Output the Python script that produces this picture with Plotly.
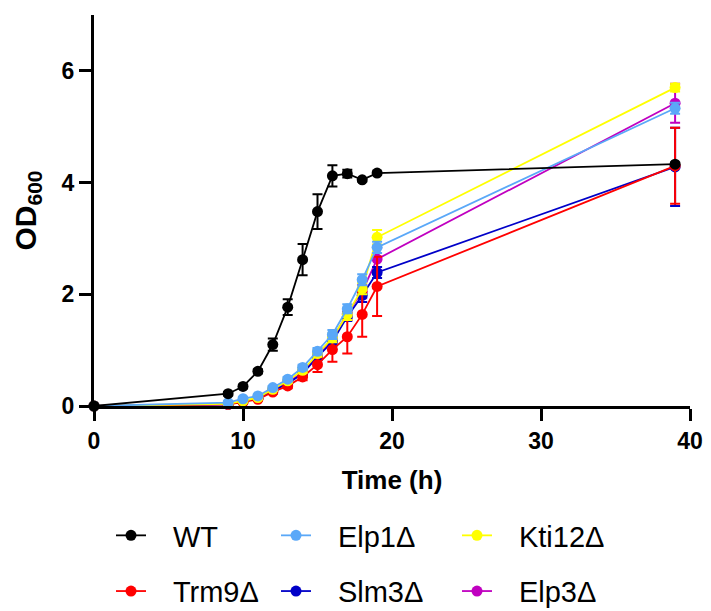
import plotly.graph_objects as go

# ---- data ----
time_h = [0, 9, 10, 11, 12, 13, 14, 15, 16, 17, 18, 19, 39]

wt = [0, 0.22, 0.35, 0.62, 1.10, 1.77, 2.62, 3.48, 4.12, 4.16, 4.05, 4.17, 4.33]
wt_err = [0, 0.03, 0.03, 0.04, 0.11, 0.14, 0.28, 0.31, 0.19, 0.07, 0.03, 0.03, 0.03]

elp1 = [0, 0.06, 0.13, 0.18, 0.33, 0.48, 0.69, 0.98, 1.28, 1.74, 2.26, 2.84, 5.33]
elp1_err = [0, 0.01, 0.02, 0.02, 0.03, 0.04, 0.05, 0.06, 0.08, 0.08, 0.10, 0.10, 0.10]

kti12 = [0, 0.04, 0.09, 0.15, 0.30, 0.45, 0.64, 0.94, 1.22, 1.64, 2.10, 3.02, 5.70]
kti12_err = [0, 0.01, 0.02, 0.02, 0.03, 0.04, 0.05, 0.06, 0.08, 0.10, 0.10, 0.13, 0.07]

trm9 = [0, 0.03, 0.07, 0.12, 0.25, 0.36, 0.52, 0.74, 1.01, 1.24, 1.64, 2.14, 4.30]
trm9_err = [0, 0.01, 0.02, 0.02, 0.03, 0.04, 0.06, 0.13, 0.22, 0.30, 0.40, 0.53, 0.68]

slm3 = [0, 0.03, 0.08, 0.14, 0.27, 0.40, 0.58, 0.88, 1.15, 1.60, 1.98, 2.39, 4.28]
slm3_err = [0, 0.01, 0.02, 0.02, 0.03, 0.04, 0.05, 0.06, 0.07, 0.08, 0.12, 0.10, 0.70]

elp3 = [0, 0.03, 0.08, 0.14, 0.28, 0.42, 0.60, 0.90, 1.20, 1.65, 2.05, 2.63, 5.42]
elp3_err = [0, 0.01, 0.02, 0.02, 0.03, 0.04, 0.05, 0.06, 0.07, 0.08, 0.12, 0.20, 0.35]

x_ticks = [0, 10, 20, 30, 40]
y_ticks = [0, 2, 4, 6]

# drawing order (bottom -> top), legend column, legend rank
series = [
    ("Elp3Δ", elp3, elp3_err, "#C000C0", "legend3", 2),
    ("Slm3Δ", slm3, slm3_err, "#0000C8", "legend2", 2),
    ("Trm9Δ", trm9, trm9_err, "#FF0000", "legend", 2),
    ("Kti12Δ", kti12, kti12_err, "#FFFF00", "legend3", 1),
    ("Elp1Δ", elp1, elp1_err, "#5AA8F8", "legend2", 1),
    ("WT", wt, wt_err, "#000000", "legend", 1),
]

FONT = "Liberation Sans, Arial, sans-serif"
NB = "\u00a0\u00a0\u2009"

fig = go.Figure()
for name, vals, err, color, leg, rank in series:
    fig.add_trace(go.Scatter(
        x=time_h, y=vals, name=NB + name, mode="lines+markers",
        line=dict(color=color, width=1.8),
        marker=dict(color=color, size=11),
        error_y=dict(type="data", array=err, color=color, thickness=2, width=5),
        legend=leg, legendrank=rank, legendgroup=name,
        cliponaxis=False,
    ))

# page body adds an 8px offset, so the figure is 8px smaller than the window
W, H = 703, 603
ml, mr, mt, mb = 86, 21, 7, 205
pw, ph = W - ml - mr, H - mt - mb

def px_x(p):
    return (p - ml) / pw

def px_y(p):
    return (H - mb - p) / ph

leg_common = dict(
    font=dict(family=FONT, size=29, color="#000000"),
    bgcolor="rgba(0,0,0,0)", orientation="v",
    traceorder="grouped", tracegroupgap=15,
    xanchor="left", yanchor="top",
)

fig.update_layout(
    width=W, height=H,
    margin=dict(l=ml, r=mr, t=mt, b=mb, autoexpand=False),
    plot_bgcolor="white", paper_bgcolor="white",
    font=dict(family=FONT, color="#000000"),
    showlegend=True,
    legend=dict(x=px_x(103), y=px_y(502), **leg_common),
    legend2=dict(x=px_x(268), y=px_y(502), **leg_common),
    legend3=dict(x=px_x(449), y=px_y(502), **leg_common),
    xaxis=dict(
        range=[0, 40], tickvals=x_ticks, ticktext=[str(v) for v in x_ticks],
        showline=True, linecolor="black", linewidth=3,
        ticks="outside", ticklen=12, tickwidth=3, tickcolor="black",
        showgrid=False, zeroline=False, automargin=False,
        tickfont=dict(family=FONT, size=23, weight="bold"),
        title=dict(text="Time (h)", font=dict(family=FONT, size=26, weight="bold"), standoff=19),
    ),
    yaxis=dict(
        range=[0, 7], tickvals=y_ticks, ticktext=[str(v) for v in y_ticks],
        showline=True, linecolor="black", linewidth=3,
        ticks="outside", ticklen=12, tickwidth=3, tickcolor="black",
        showgrid=False, zeroline=False, automargin=False,
        tickfont=dict(family=FONT, size=23, weight="bold"),
        title=dict(text="OD<sub>600</sub>", font=dict(family=FONT, size=30, weight="bold"), standoff=17),
    ),
)

fig.write_html("out.html")
